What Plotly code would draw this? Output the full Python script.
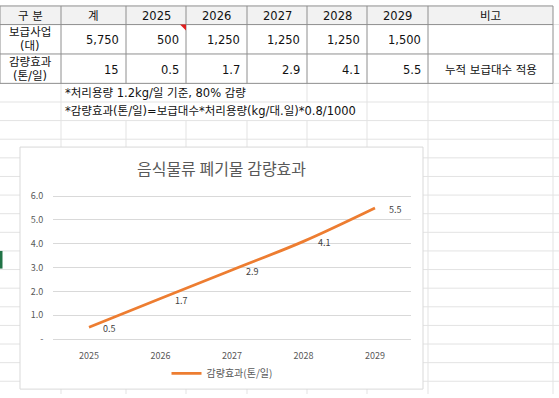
import plotly.graph_objects as go

# ---------------- data ----------------
YEARS = ["2025", "2026", "2027", "2028", "2029"]
REDUCTION = [0.5, 1.7, 2.9, 4.1, 5.5]
SERIES_NAME = "감량효과(톤/일)"
CHART_TITLE = "음식물류 폐기물 감량효과"
Y_TICK_VALS = [0, 1, 2, 3, 4, 5, 6]
Y_TICK_TEXT = ["-", "1.0", "2.0", "3.0", "4.0", "5.0", "6.0"]

HEADER = ["구 분", "계", "2025", "2026", "2027", "2028", "2029", "비고"]
ROW_LABELS = [["보급사업", "(대)"], ["감량효과", "(톤/일)"]]
SUPPLY = ["5,750", "500", "1,250", "1,250", "1,250", "1,500"]
EFFECT = ["15", "0.5", "1.7", "2.9", "4.1", "5.5"]
REMARKS = ["", "누적 보급대수 적용"]
NOTES = ["*처리용량 1.2kg/일 기준, 80% 감량",
         "*감량효과(톤/일)=보급대수*처리용량(kg/대.일)*0.8/1000"]

# ---------------- geometry (pixels) ----------------
W, H = 559, 398
COL_X = [0, 61, 126, 186, 247, 307, 367, 428, 553]
ROW_Y = [2, 21, 51, 81]
GRID_STEP = 19
NOTE_TEXT_END = [256, 367]
BOX = (20, 146, 423, 393)
PLOT_L, PLOT_R = 53.25, 410.75
Y0_PX, Y6_PX = 342, 196
FONT = "Noto Sans CJK KR"
TABLE_FONT = "DejaVu Sans, Noto Sans CJK KR"
GRAY_TXT = "#595959"


def fx(x):
    return x / W


def fy(y):
    return 1 - y / H


def line(x0, y0, x1, y1, color, width=1):
    return dict(type="line", xref="paper", yref="paper", x0=fx(x0), y0=fy(y0),
                x1=fx(x1), y1=fy(y1), line=dict(color=color, width=width), layer="below")


def rect(x0, y0, x1, y1, fill, lc=None, lw=0):
    return dict(type="rect", xref="paper", yref="paper", x0=fx(x0), y0=fy(y0),
                x1=fx(x1), y1=fy(y1), fillcolor=fill,
                line=dict(color=lc or fill, width=lw), layer="below")


shapes = []
annotations = []
GRID = "#e3e3e3"
BORDER = "#8e8e8e"

# spreadsheet gridlines
rows = []
y = ROW_Y[-1]
while y < H:
    rows.append(y)
    y += GRID_STEP
for yy in rows[1:]:
    shapes.append(line(0, yy, W, yy, GRID))
for yy in ROW_Y[1:]:
    shapes.append(line(COL_X[-1], yy, W, yy, GRID))
for x in COL_X[1:]:
    segs = []
    # note rows: hide gridlines covered by overflowing text
    for i, end in enumerate(NOTE_TEXT_END):
        ya, yb = rows[i], rows[i + 1]
        if not (COL_X[1] < x < end):
            segs.append((ya, yb))
    segs.append((rows[len(NOTE_TEXT_END)], H))
    for ya, yb in segs:
        shapes.append(line(x, ya, x, yb, GRID))

# chart box
shapes.append(rect(BOX[0], BOX[1], BOX[2], BOX[3], "white", "#d9d9d9", 1))

# table
shapes.append(rect(COL_X[0], ROW_Y[0], COL_X[-1], ROW_Y[1], "#f2f2f2"))
for yy in ROW_Y:
    shapes.append(line(COL_X[0], yy, COL_X[-1], yy, BORDER))
for x in COL_X:
    shapes.append(line(x, ROW_Y[0], x, ROW_Y[-1], BORDER))
# comment indicator
c = COL_X[3]
shapes.append(dict(type="path", xref="paper", yref="paper",
                   path=f"M{fx(c-6)},{fy(ROW_Y[1])} L{fx(c)},{fy(ROW_Y[1])} L{fx(c)},{fy(ROW_Y[1]+6)} Z",
                   fillcolor="#e02020", line=dict(width=0), layer="above"))
# row selection indicator
shapes.append(rect(0, 252, 2.5, 270, "#217346"))

TFONT = dict(family=TABLE_FONT, size=11.5, color="#111111")


def ann(text, x, y, xanchor="center", font=TFONT):
    annotations.append(dict(text=text, x=fx(x), y=fy(y), xref="paper", yref="paper",
                            xanchor=xanchor, yanchor="middle", showarrow=False, font=font))


# header
for i, h in enumerate(HEADER):
    ann(h, (COL_X[i] + COL_X[i + 1]) / 2, (ROW_Y[0] + ROW_Y[1]) / 2 + 0.5)
# body rows
for r, (labels, vals) in enumerate(zip(ROW_LABELS, [SUPPLY, EFFECT])):
    ya, yb = ROW_Y[r + 1], ROW_Y[r + 2]
    mid = (ya + yb) / 2
    ann(labels[0], (COL_X[0] + COL_X[1]) / 2, mid - 7)
    ann(labels[1], (COL_X[0] + COL_X[1]) / 2, mid + 7)
    for j, v in enumerate(vals):
        ann(v, COL_X[j + 2] - 5, mid + 1, xanchor="right")
    if REMARKS[r]:
        ann(REMARKS[r], (COL_X[-2] + COL_X[-1]) / 2, mid + 1)
# notes
for i, n in enumerate(NOTES):
    ann(n, COL_X[1] + 2, (rows[i] + rows[i + 1]) / 2, xanchor="left")

# data labels (placed at the data points through the axes; category serial index)
for idx, yv in enumerate(REDUCTION):
    annotations.append(dict(text=f"{yv:.1f}", x=idx, y=yv, xref="x", yref="y",
                            xanchor="left", yanchor="middle", xshift=12, yshift=-1.5,
                            showarrow=False,
                            font=dict(family=FONT, size=9, color="#404040")))

# ---------------- chart ----------------
ppu = (Y0_PX - Y6_PX) / 6.0
ext = 0.1
y_lo_px = Y0_PX + ext * ppu
y_hi_px = Y6_PX - ext * ppu

fig = go.Figure()
fig.add_trace(go.Scatter(
    x=YEARS, y=REDUCTION, name=SERIES_NAME, mode="lines",
    line=dict(color="#ED7D31", width=2.75, shape="spline"),
    hoverinfo="skip", cliponaxis=False,
))

fig.update_layout(
    width=W, height=H, margin=dict(l=0, r=0, t=0, b=0),
    paper_bgcolor="white", plot_bgcolor="rgba(0,0,0,0)",
    font=dict(family=FONT, color=GRAY_TXT),
    shapes=shapes, annotations=annotations,
    title=dict(text=CHART_TITLE, x=fx((BOX[0] + BOX[2]) / 2), y=fy(169),
               xref="paper", yref="paper", xanchor="center", yanchor="middle",
               font=dict(family=FONT, size=16, color=GRAY_TXT)),
    showlegend=True,
    legend=dict(orientation="h", x=fx(222), y=fy(377), xanchor="center", yanchor="middle",
                font=dict(family=FONT, size=10, color=GRAY_TXT),
                bgcolor="rgba(0,0,0,0)", itemwidth=30),
    xaxis=dict(type="category", range=[-0.5, len(YEARS) - 0.5],
               domain=[fx(PLOT_L), fx(PLOT_R)], showgrid=False, zeroline=False,
               showline=False, ticks="", ticklabelstandoff=7,
               tickfont=dict(family=FONT, size=9, color=GRAY_TXT), fixedrange=True),
    yaxis=dict(range=[-ext, 6 + ext], domain=[fy(y_lo_px), fy(y_hi_px)],
               tickvals=Y_TICK_VALS, ticktext=Y_TICK_TEXT, showgrid=True,
               gridcolor="#d9d9d9", gridwidth=1, zeroline=False, showline=False,
               ticks="", ticklabelstandoff=9,
               tickfont=dict(family=FONT, size=9, color=GRAY_TXT), fixedrange=True),
)

fig.write_html("out.html", config={"displayModeBar": False},
               post_script="document.body.style.margin='0';document.body.style.overflow='hidden';")
